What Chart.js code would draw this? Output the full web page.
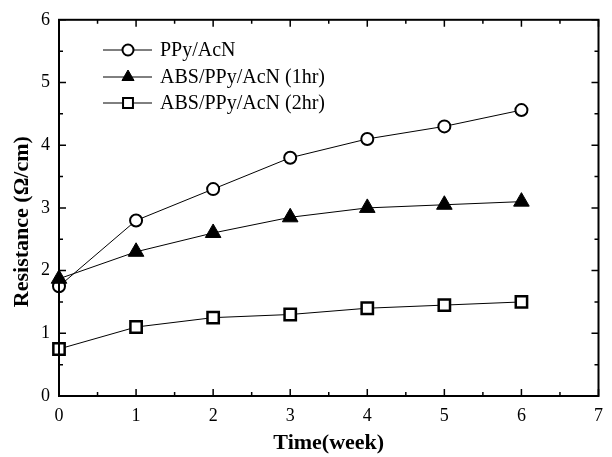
<!DOCTYPE html>
<html>
<head>
<meta charset="utf-8">
<script src="https://cdn.jsdelivr.net/npm/chart.js@4.4.1/dist/chart.umd.min.js"></script>
<style>
  html, body { margin: 0; padding: 0; background: #fff; }
  #wrap { width: 612px; height: 457px; }
</style>
</head>
<body>
<div id="wrap"><canvas id="myChart" width="612" height="457"></canvas></div>
<script>
"use strict";

//////// data
const weeks = [0, 1, 2, 3, 4, 5, 6];
const ppyAcn = [1.75, 2.8, 3.3, 3.8, 4.1, 4.3, 4.56];
const abs1hr = [1.87, 2.3, 2.6, 2.85, 3.0, 3.05, 3.1];
const abs2hr = [0.75, 1.1, 1.25, 1.3, 1.4, 1.45, 1.5];
const seriesNames = ["PPy/AcN", "ABS/PPy/AcN (1hr)", "ABS/PPy/AcN (2hr)"];

const serif = "'Liberation Serif', 'DejaVu Serif', serif";

const toPoints = (ys) => weeks.map((x, i) => ({ x: x, y: ys[i] }));

// legend markers are a bit smaller than the ones on the curves
const legendRadius = [5.5, 7, 7];

// ticks pointing in, box on all four sides, little legend in the corner
const framePlugin = {
  id: "frame",
  afterDraw(chart) {
    const ctx = chart.ctx;
    const a = chart.chartArea;
    const xs = chart.scales.x;
    const ys = chart.scales.y;
    ctx.save();
    ctx.strokeStyle = "#000";
    ctx.lineWidth = 2;
    ctx.strokeRect(a.left, a.top, a.right - a.left, a.bottom - a.top);

    ctx.lineWidth = 1.5;
    ctx.beginPath();
    for (let v = 0; v <= 7; v += 0.5) {
      const px = xs.getPixelForValue(v);
      const len = v % 1 === 0 ? 7 : 4;
      ctx.moveTo(px, a.bottom);
      ctx.lineTo(px, a.bottom - len);
      ctx.moveTo(px, a.top);
      ctx.lineTo(px, a.top + len);
    }
    for (let v = 0; v <= 6; v += 0.5) {
      const py = ys.getPixelForValue(v);
      const len = v % 1 === 0 ? 7 : 4;
      ctx.moveTo(a.left, py);
      ctx.lineTo(a.left + len, py);
      ctx.moveTo(a.right, py);
      ctx.lineTo(a.right - len, py);
    }
    ctx.stroke();

    // legend
    ctx.font = "20px " + serif;
    ctx.textBaseline = "middle";
    ctx.textAlign = "left";
    const rows = [50, 77, 103];
    chart.data.datasets.forEach((ds, i) => {
      const y = rows[i];
      ctx.strokeStyle = "#000";
      ctx.lineWidth = 1;
      ctx.beginPath();
      ctx.moveTo(103, y);
      ctx.lineTo(152, y);
      ctx.stroke();
      ctx.fillStyle = ds.pointBackgroundColor;
      ctx.strokeStyle = "#000";
      ctx.lineWidth = Math.min(ds.pointBorderWidth, 2);
      Chart.helpers.drawPoint(ctx, {
        pointStyle: ds.pointStyle,
        radius: legendRadius[i],
        borderWidth: Math.min(ds.pointBorderWidth, 2),
        rotation: 0,
      }, 128, y);
      ctx.fillStyle = "#000";
      ctx.fillText(seriesNames[i], 160, y + 1);
    });
    ctx.restore();
  },
};

const ctx = document.getElementById("myChart");

new Chart(ctx, {
  type: "line",
  data: {
    datasets: [
      {
        label: seriesNames[0],
        data: toPoints(ppyAcn),
        borderColor: "#000",
        borderWidth: 1,
        pointStyle: "circle",
        pointRadius: 6,
        pointBorderWidth: 2,
        pointBackgroundColor: "#fff",
        pointBorderColor: "#000",
        order: 2,
      },
      {
        label: seriesNames[1],
        data: toPoints(abs1hr),
        borderColor: "#000",
        borderWidth: 1,
        pointStyle: "triangle",
        pointRadius: 9,
        pointBorderWidth: 1,
        pointBackgroundColor: "#000",
        pointBorderColor: "#000",
        order: 1,
      },
      {
        label: seriesNames[2],
        data: toPoints(abs2hr),
        borderColor: "#000",
        borderWidth: 1,
        pointStyle: "rect",
        pointRadius: 8,
        pointBorderWidth: 2.5,
        pointBackgroundColor: "#fff",
        pointBorderColor: "#000",
        order: 3,
      },
    ],
  },
  options: {
    responsive: false,
    animation: false,
    clip: false,
    layout: { padding: { top: 18, right: 7, left: 0, bottom: 0 } },
    plugins: {
      legend: { display: false },
      tooltip: { enabled: false },
    },
    scales: {
      x: {
        type: "linear",
        min: 0,
        max: 7,
        grid: { display: false, drawTicks: false },
        border: { display: false },
        ticks: {
          stepSize: 1,
          padding: 9,
          color: "#000",
          font: { family: serif, size: 18 },
        },
        title: {
          display: true,
          text: "Time(week)",
          color: "#000",
          font: { family: serif, size: 22, weight: "bold" },
          padding: { top: 0, bottom: 0 },
        },
        afterFit(scale) {
          scale.height = 61;
        },
      },
      y: {
        min: 0,
        max: 6,
        grid: { display: false, drawTicks: false },
        border: { display: false },
        ticks: {
          stepSize: 1,
          padding: 9,
          color: "#000",
          font: { family: serif, size: 18 },
        },
        title: {
          display: true,
          // trailing spaces nudge the rotated title down a little, like the original
          text: "Resistance (Ω/cm)     ",
          color: "#000",
          font: { family: serif, size: 22, weight: "bold" },
          padding: { top: 9, bottom: 0 },
        },
        afterFit(scale) {
          scale.width = 59;
        },
      },
    },
  },
  plugins: [framePlugin],
});
</script>
</body>
</html>
